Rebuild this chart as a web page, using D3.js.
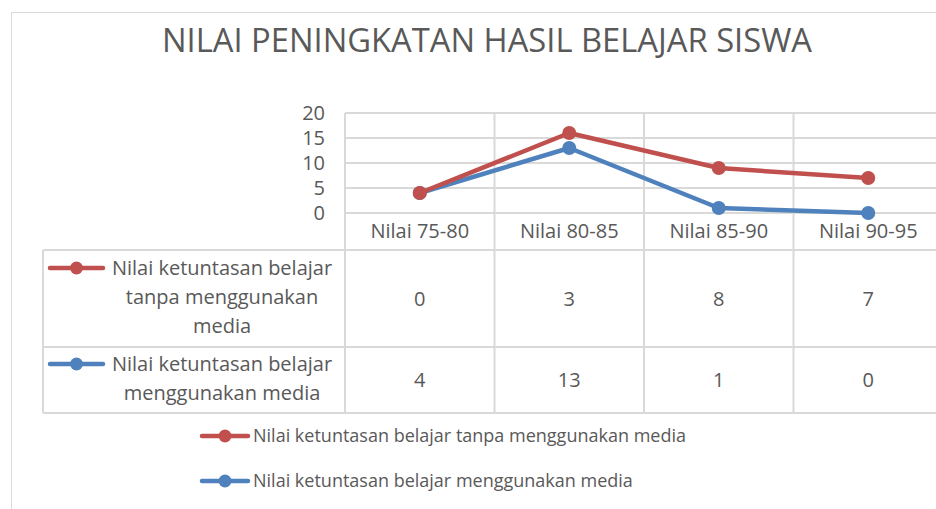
<!DOCTYPE html>
<html>
<head>
<meta charset="utf-8">
<script src="https://cdn.jsdelivr.net/npm/d3@7"></script>
<style>
  body { margin: 0; background: #fff; }
  svg text { font-family: "Open Sans", sans-serif; fill: #595959; }
</style>
</head>
<body>
<svg id="chart" width="936" height="509"></svg>
<script>
const title = "NILAI PENINGKATAN HASIL BELAJAR SISWA";
const categories = ["Nilai 75-80", "Nilai 80-85", "Nilai 85-90", "Nilai 90-95"];
const tanpaMedia = [0, 3, 8, 7];
const denganMedia = [4, 13, 1, 0];
const yTicks = [0, 5, 10, 15, 20];
const tanpaLabel = ["Nilai ketuntasan belajar", "tanpa menggunakan", "media"];
const denganLabel = ["Nilai ketuntasan belajar", "menggunakan media"];
const tanpaName = "Nilai ketuntasan belajar tanpa menggunakan media";
const denganName = "Nilai ketuntasan belajar menggunakan media";

const red = "#C0504D";
const blue = "#4F81BD";
const grid = "#D9D9D9";

const svg = d3.select("#chart");

// chart frame
svg.append("rect")
  .attr("x", 11.5).attr("y", 12.5)
  .attr("width", 940).attr("height", 520)
  .attr("fill", "none").attr("stroke", grid);

svg.append("text")
  .attr("x", 487).attr("y", 52)
  .attr("text-anchor", "middle")
  .attr("textLength", 650).attr("lengthAdjust", "spacingAndGlyphs")
  .style("font-size", "33px")
  .text(title);

const x = d3.scaleBand().domain(categories).range([345, 943]).padding(0);
const y = d3.scaleLinear().domain([0, 20]).range([213, 113]);
const cx = d => x(d) + x.bandwidth() / 2;

const tableLeft = 43;
const rowTop = 250, row1Bottom = 347, row2Bottom = 413;

// gridlines
const gridG = svg.append("g").attr("stroke", grid).attr("stroke-width", 2);
gridG.selectAll("line.h").data(yTicks).join("line")
  .attr("x1", 345).attr("x2", 943)
  .attr("y1", d => y(d)).attr("y2", d => y(d));
gridG.selectAll("line.v").data(categories.concat(["end"])).join("line")
  .attr("x1", (d, i) => 345 + i * x.bandwidth())
  .attr("x2", (d, i) => 345 + i * x.bandwidth())
  .attr("y1", y(20)).attr("y2", row2Bottom);
gridG.selectAll("line.t").data([rowTop, row1Bottom, row2Bottom]).join("line")
  .attr("x1", tableLeft).attr("x2", 943)
  .attr("y1", d => d).attr("y2", d => d);
gridG.append("line")
  .attr("x1", tableLeft).attr("x2", tableLeft)
  .attr("y1", rowTop).attr("y2", row2Bottom);

// y axis labels
svg.append("g").selectAll("text").data(yTicks).join("text")
  .attr("x", 325).attr("y", d => y(d))
  .attr("dy", "0.36em").attr("text-anchor", "end")
  .style("font-size", "20px")
  .text(d => d);

// category labels
svg.append("g").selectAll("text").data(categories).join("text")
  .attr("x", cx).attr("y", 231)
  .attr("dy", "0.36em").attr("text-anchor", "middle")
  .style("font-size", "20px")
  .text(d => d);

// stacked lines
const rows = categories.map((c, i) => ({ cat: c, media: denganMedia[i], tanpa: tanpaMedia[i] }));
const stacked = d3.stack().keys(["media", "tanpa"])(rows);
const colors = { media: blue, tanpa: red };

const line = d3.line()
  .x(d => cx(d.data.cat))
  .y(d => y(d[1]));

stacked.forEach(s => {
  const g = svg.append("g");
  g.append("path")
    .datum(s)
    .attr("fill", "none")
    .attr("stroke", colors[s.key])
    .attr("stroke-width", 4.5)
    .attr("stroke-linejoin", "round")
    .attr("d", line);
  g.selectAll("circle").data(s).join("circle")
    .attr("cx", d => cx(d.data.cat))
    .attr("cy", d => y(d[1]))
    .attr("r", 7)
    .attr("fill", colors[s.key]);
});

function legendKey(g, x0, x1, yy, color) {
  g.append("line")
    .attr("x1", x0).attr("x2", x1).attr("y1", yy).attr("y2", yy)
    .attr("stroke", color).attr("stroke-width", 4.5).attr("stroke-linecap", "round");
  g.append("circle")
    .attr("cx", (x0 + x1) / 2).attr("cy", yy).attr("r", 6.5)
    .attr("fill", color);
}

// data table
const table = svg.append("g");
legendKey(table, 50, 103, 268, red);
table.selectAll("text.r1").data(tanpaLabel).join("text")
  .attr("x", 222).attr("y", (d, i) => 268 + i * 29)
  .attr("dy", "0.36em").attr("text-anchor", "middle")
  .style("font-size", "20px")
  .text(d => d);
legendKey(table, 50, 103, 364, blue);
table.selectAll("text.r2").data(denganLabel).join("text")
  .attr("x", 222).attr("y", (d, i) => 364 + i * 29)
  .attr("dy", "0.36em").attr("text-anchor", "middle")
  .style("font-size", "20px")
  .text(d => d);

table.selectAll("text.v1").data(tanpaMedia).join("text")
  .attr("x", (d, i) => cx(categories[i])).attr("y", (rowTop + row1Bottom) / 2)
  .attr("dy", "0.36em").attr("text-anchor", "middle")
  .style("font-size", "20px")
  .text(d => d);
table.selectAll("text.v2").data(denganMedia).join("text")
  .attr("x", (d, i) => cx(categories[i])).attr("y", (row1Bottom + row2Bottom) / 2)
  .attr("dy", "0.36em").attr("text-anchor", "middle")
  .style("font-size", "20px")
  .text(d => d);

// legend
const legend = svg.append("g");
[[tanpaName, red, 436], [denganName, blue, 481]].forEach(([name, color, yy]) => {
  legendKey(legend, 202, 248, yy, color);
  legend.append("text")
    .attr("x", 253).attr("y", yy)
    .attr("dy", "0.36em")
    .style("font-size", "18px")
    .text(name);
});
</script>
</body>
</html>
